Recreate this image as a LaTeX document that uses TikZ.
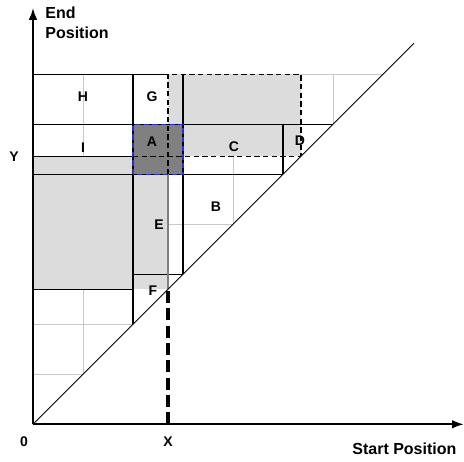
\documentclass[tikz,border=0pt]{standalone}
\usepackage{fontspec}
\setmainfont{Liberation Sans}
\usetikzlibrary{arrows.meta,positioning}
\definecolor{qgray}{HTML}{DCDCDC}
\definecolor{qdark}{HTML}{808080}
\definecolor{qblue}{HTML}{2A2AD0}
\definecolor{qgrid}{HTML}{C8C8C8}

\begin{document}
\begin{tikzpicture}[x=37.5pt,y=37.5pt,>=Latex]
        \tikzset{gridline/.style={draw=qgrid,line width=0.5pt},
                 part/.style={draw=black,line width=0.8pt},
                 qline/.style={draw=black,line width=0.8pt,dash pattern=on 4pt off 2.5pt},
                 axis/.style={line width=1.6pt,-{Latex[length=9pt,width=6.5pt]}},
                 lbl/.style={font=\bfseries\fontsize{10.5}{12}\selectfont,inner sep=1pt},
                 ttl/.style={font=\bfseries\fontsize{12}{15.5}\selectfont,align=left,inner sep=1pt}}
        \useasboundingbox (-0.66,-0.734) rectangle (8.62,8.486);
        \def\qx{2.7}
        \def\qy{5.36}
        \coordinate (O) at (0,0);
        \coordinate (ytip) at (0,8.33);
        \coordinate (xtip) at (8.62,0);
        \coordinate (dtop) at (7.62,7.62);
        % grid above the diagonal
        \foreach \k in {1,...,7} {
          \draw[gridline] (\k,\k) -- (\k,7);
          \draw[gridline] (0,\k) -- (\k,\k);
        }
        % shaded regions
        \fill[qgray] (0,\qx) rectangle (\qx,\qy);
        \fill[qgray] (\qx,\qy) rectangle (\qy,7);
        \fill[qdark] (2,5) rectangle (3,6);
        % cell borders
        \draw[part] (0,7) -- (\qx,7);
        \draw[part] (0,6) -- (6,6);
        \draw[part] (0,5) -- (5,5);
        \draw[part] (0,\qy) -- (2,\qy);
        \draw[part] (0,\qx) -- (2,\qx);
        \draw[part] (2,7) -- (2,2);
        \draw[part] (3,7) -- (3,3);
        \draw[part] (2,3) -- (3,3);
        \draw[part] (5,6) -- (5,5);
        \draw[draw=gray,line width=0.8pt] (\qx,5) -- (\qx,\qx);
        \draw[qblue,line width=0.8pt,dash pattern=on 4pt off 2.5pt] (2,5) rectangle (3,6);
        % query lines
        \draw[qline] (\qx,5) -- (\qx,7) -- (\qy,7) -- (\qy,\qy);
        \draw[qline] (2,\qy) -- (\qy,\qy);
        \draw[line width=2.3pt,dash pattern=on 9pt off 4pt] (\qx,0) -- (\qx,\qx);
        \draw[line width=0.6pt] (O) -- (dtop);
        \draw[axis] (O) -- (ytip);
        \draw[axis] (O) -- (xtip);
        % labels
        \node[lbl] (H) at (1,6.55) {H};
        \node[lbl] (G) at (2.38,6.55) {G};
        \node[lbl] (A) at (2.38,5.65) {A};
        \node[lbl] (I) at (1,5.53) {I};
        \node[lbl] (C) at (4.02,5.55) {C};
        \node[lbl] (D) at (5.34,5.67) {D};
        \node[lbl] (B) at (3.66,4.35) {B};
        \node[lbl] (E) at (2.52,4.0) {E};
        \node[lbl] (F) at (2.4,2.67) {F};
        \node[lbl] (ylab) at (-0.38,5.35) {Y};
        \node[lbl] (xlab) at (2.7,-0.34) {X};
        \node[lbl] (zero) at (-0.18,-0.35) {0};
        \node[ttl,anchor=east] (xtitle) at (8.5,-0.49) {Start Position};
        \node[ttl] (ytitle) at (0.88,8.03) {End\\Position};
      \end{tikzpicture}
\end{document}
